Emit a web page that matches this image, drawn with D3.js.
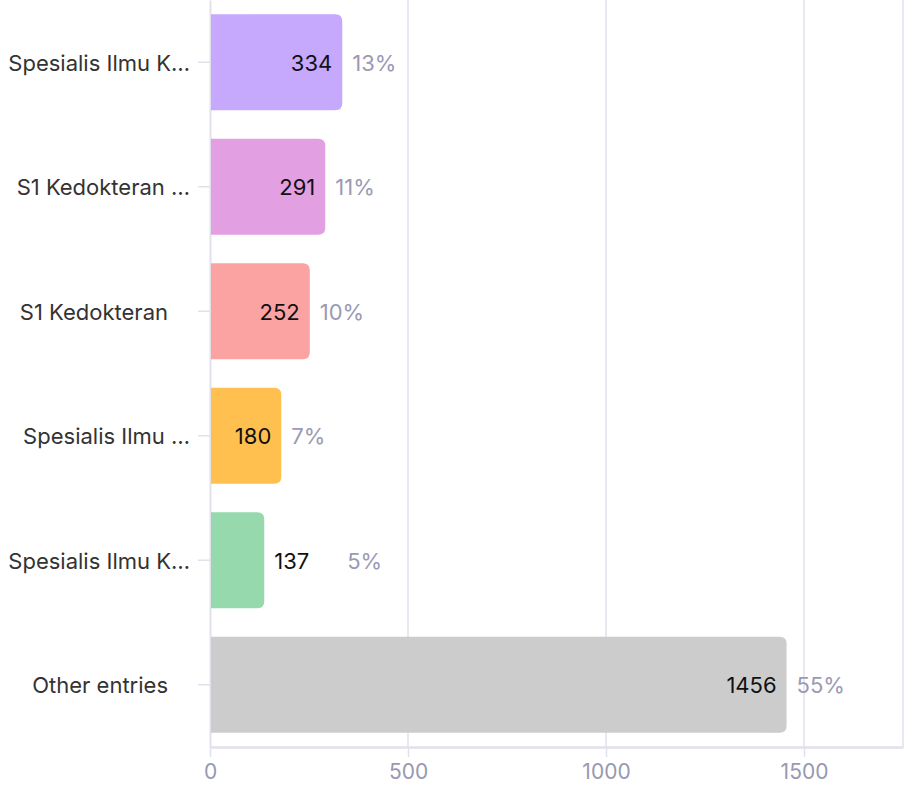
<!DOCTYPE html>
<html>
<head>
<meta charset="utf-8">
<script src="https://cdn.jsdelivr.net/npm/d3@7"></script>
<style>
  html, body { margin: 0; padding: 0; background: #fff; }
  svg { display: block; font-family: Inter, "Noto Sans", sans-serif; }
  .lbl { white-space: pre; }
</style>
</head>
<body>
<svg id="chart" width="906" height="788"></svg>
<script>
const categories = ["Spesialis Ilmu K…", "S1 Kedokteran …", "S1 Kedokteran\u2002\u2002", "Spesialis Ilmu …", "Spesialis Ilmu K…", "Other entries\u2002\u2002"];
const values = [334, 291, 252, 180, 137, 1456];
const colors = ["#c6a8fd", "#e2a0e3", "#fba3a3", "#ffc04f", "#95d9ad", "#cccccc"];
const xTicks = [0, 500, 1000, 1500];
const xMax = 1750;

const svg = d3.select("#chart");
const total = d3.sum(values);
const data = categories.map((c, i) => ({ key: i, label: c, value: values[i], color: colors[i], pct: Math.round(values[i] / total * 100) + "%" }));

const x = d3.scaleLinear().domain([0, xMax]).range([210, 903]);
const y = d3.scaleBand().domain(data.map(d => d.key)).range([0, 747]).paddingInner(0.23).paddingOuter(0.115);

const gridColor = "#e1e1ec";
const font = "Inter, sans-serif";

// gridlines
svg.append("g").selectAll("line").data(xTicks.slice(1).concat([xMax])).join("line")
  .attr("x1", d => x(d)).attr("x2", d => x(d)).attr("y1", 0).attr("y2", 747)
  .attr("stroke", gridColor).attr("stroke-width", 1.5);

// x axis
const xAxis = svg.append("g").attr("transform", "translate(0,747)")
  .call(d3.axisBottom(x).tickValues(xTicks).tickFormat(d3.format("d")).tickSize(10).tickPadding(7).tickSizeOuter(0));
xAxis.select(".domain").attr("stroke", gridColor).attr("stroke-width", 2.5);
xAxis.selectAll(".tick line").attr("stroke", gridColor).attr("stroke-width", 1.5);
xAxis.selectAll(".tick text").attr("fill", "#9898b2").attr("font-size", 21).attr("font-family", font);

// y axis
const yAxis = svg.append("g").attr("transform", "translate(210,0)")
  .call(d3.axisLeft(y).tickFormat(k => categories[k]).tickSize(12).tickPadding(8).tickSizeOuter(0));
yAxis.select(".domain").attr("stroke", gridColor).attr("stroke-width", 2);
yAxis.selectAll(".tick line").attr("stroke", gridColor).attr("stroke-width", 1.5);
yAxis.selectAll(".tick text").attr("class", "lbl").attr("fill", "#333").attr("font-size", 22).attr("dy", "0.38em").attr("font-family", font);

// bars with rounded right corners
const r = 7;
function barPath(d) {
  const x0 = x(0) + 1, x1 = x(d.value), y0 = y(d.key), h = y.bandwidth();
  const rr = Math.min(r, (x1 - x0) / 2);
  return `M${x0},${y0}H${x1 - rr}Q${x1},${y0} ${x1},${y0 + rr}V${y0 + h - rr}Q${x1},${y0 + h} ${x1 - rr},${y0 + h}H${x0}Z`;
}
svg.append("g").selectAll("path").data(data).join("path")
  .attr("d", barPath).attr("fill", d => d.color);

// value labels
const labels = svg.append("g").selectAll("text").data(data).join("text")
  .attr("y", d => y(d.key) + y.bandwidth() / 2)
  .attr("dy", "0.38em")
  .attr("font-size", 22).attr("fill", "#111").attr("font-family", font)
  .text(d => d.value);

labels.each(function(d) {
  const w = this.getComputedTextLength();
  const barW = x(d.value) - x(0);
  d.inside = barW > w + 24;
  if (d.inside) {
    d3.select(this).attr("x", x(d.value) - 10).attr("text-anchor", "end");
    d.pctX = x(d.value) + 10;
  } else {
    d3.select(this).attr("x", x(d.value) + 10).attr("text-anchor", "start");
    d.pctX = x(d.value) + 10 + w + 38;
  }
});

svg.append("g").selectAll("text").data(data).join("text")
  .attr("x", d => d.pctX)
  .attr("y", d => y(d.key) + y.bandwidth() / 2)
  .attr("dy", "0.38em")
  .attr("font-size", 22).attr("fill", "#9a9ab4").attr("font-family", font)
  .text(d => d.pct);
</script>
</body>
</html>
